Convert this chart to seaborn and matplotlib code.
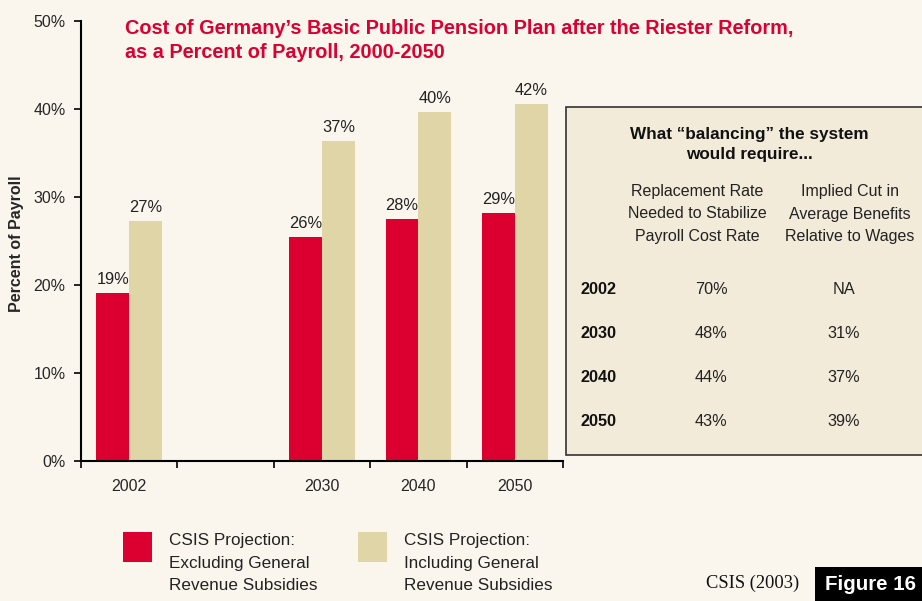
import matplotlib
matplotlib.use('Agg')
import matplotlib.pyplot as plt
import seaborn as sns
import pandas as pd
from matplotlib.patches import Rectangle

# bar data (percent of payroll)
years = ["2002", "2030", "2040", "2050"]
slots = ["2002", "gap", "2030", "2040", "2050"]
excluding = [19.1, 25.5, 27.5, 28.2]
including = [27.3, 36.4, 39.7, 40.6]
excluding_labels = ["19%", "26%", "28%", "29%"]
including_labels = ["27%", "37%", "40%", "42%"]

# inset table
table_years = ["2002", "2030", "2040", "2050"]
replacement_rate = ["70%", "48%", "44%", "43%"]
implied_cut = ["NA", "31%", "37%", "39%"]

RED = "#DC0031"
BEIGE = "#E0D5A7"
BG = "#FAF6EE"
BOX = "#F2EBDA"

sns.set_style("ticks")
plt.rcParams['font.family'] = ['Liberation Sans', 'DejaVu Sans']

W, H = 922, 601
fig = plt.figure(figsize=(W / 100, H / 100), dpi=100, facecolor=BG)

def px(x, y):
    return x / W, 1 - y / H

ax = fig.add_axes([81 / W, (H - 461) / H, (563 - 81) / W, (461 - 21) / H])
ax.set_facecolor(BG)

s1 = "CSIS Projection: Excluding General Revenue Subsidies"
s2 = "CSIS Projection: Including General Revenue Subsidies"
df = pd.DataFrame({
    "year": years * 2,
    "value": excluding + including,
    "series": [s1] * len(years) + [s2] * len(years),
})

sns.barplot(data=df, x="year", y="value", hue="series", order=slots,
            hue_order=[s1, s2], palette=[RED, BEIGE], width=0.68,
            saturation=1, legend=False, ax=ax, linewidth=0)

for cont, labs in zip(ax.containers, [excluding_labels, including_labels]):
    bars = [b for b in cont if b.get_height() == b.get_height() and b.get_height() > 0]
    if len(bars) == len(labs):
        for b, t in zip(bars, labs):
            ax.annotate(t, (b.get_x() + b.get_width() / 2, b.get_height()),
                        xytext=(0, 4), textcoords="offset points",
                        ha="center", va="bottom", fontsize=11.8, color="#222222")

ax.set_xlim(-0.5, 4.5)
ax.set_ylim(0, 50)
ax.set_yticks(range(0, 51, 10))
ax.set_yticklabels([f"{v}%" for v in range(0, 51, 10)], fontsize=11.5)
ax.set_xticks([0, 2, 3, 4])
ax.set_xticklabels(years, fontsize=11.5)
ax.set_xticks([i - 0.5 for i in range(6)], minor=True)
ax.tick_params(axis="x", which="major", length=0, pad=13)
ax.tick_params(axis="x", which="minor", length=5, width=1.2, color="black")
ax.tick_params(axis="y", length=5, width=1.2, color="black", pad=6)
ax.set_xlabel("")
ax.set_ylabel("Percent of Payroll", fontsize=11.5, fontweight="bold")
ax.yaxis.set_label_coords((17 - 81) / (563 - 81), 0.495)
ax.yaxis.label.set_va("center")
for sp in ["top", "right"]:
    ax.spines[sp].set_visible(False)
for sp in ["left", "bottom"]:
    ax.spines[sp].set_linewidth(1.5)
    ax.spines[sp].set_color("black")

# title
fig.text(*px(125, 28), "Cost of Germany\u2019s Basic Public Pension Plan after the Riester Reform,",
         color=RED, fontsize=14.3, fontweight="bold", va="center")
fig.text(*px(125, 52), "as a Percent of Payroll, 2000-2050",
         color=RED, fontsize=14.3, fontweight="bold", va="center")

# inset table box
fig.add_artist(Rectangle(px(566, 455), (W + 5 - 566) / W, (455 - 107) / H,
                         transform=fig.transFigure, facecolor=BOX,
                         edgecolor="#333333", linewidth=1.2))
fig.text(*px(749, 134), "What \u201cbalancing\u201d the system", fontsize=12.3,
         fontweight="bold", ha="center", va="center", color="#111111")
fig.text(*px(749, 155), "would require...", fontsize=12.3,
         fontweight="bold", ha="center", va="center", color="#111111")
for i, (c1, c2) in enumerate(zip(["Replacement Rate", "Needed to Stabilize", "Payroll Cost Rate"],
                                 ["Implied Cut in", "Average Benefits", "Relative to Wages"])):
    y = 192 + i * 22
    fig.text(*px(697, y), c1, fontsize=11.5, ha="center", va="center", color="#222222")
    fig.text(*px(850, y), c2, fontsize=11.5, ha="center", va="center", color="#222222")
for i, (yr, a, b) in enumerate(zip(table_years, replacement_rate, implied_cut)):
    y = 289 + i * 44.3
    fig.text(*px(580, y), yr, fontsize=11.7, fontweight="bold", va="center", color="#111111")
    fig.text(*px(711, y), a, fontsize=11.7, ha="center", va="center", color="#222222")
    fig.text(*px(844, y), b, fontsize=11.7, ha="center", va="center", color="#222222")

# legend
for x0, col, lines in [(123, RED, ["CSIS Projection:", "Excluding General", "Revenue Subsidies"]),
                       (358, BEIGE, ["CSIS Projection:", "Including General", "Revenue Subsidies"])]:
    fig.add_artist(Rectangle(px(x0, 562), 29 / W, 30 / H, transform=fig.transFigure,
                             facecolor=col, edgecolor="none"))
    for j, t in enumerate(lines):
        fig.text(*px(x0 + 46, 541 + j * 22.5), t, fontsize=12.3, va="center", color="#222222")

# source and figure tag
fig.text(*px(706, 583), "CSIS (2003)", fontsize=13.3, family=["Liberation Serif", "DejaVu Serif"],
         va="center", color="#111111")
fig.add_artist(Rectangle(px(815, 601), (W - 815) / W, 34 / H, transform=fig.transFigure,
                         facecolor="black", edgecolor="none"))
fig.text(*px(870, 585), "Figure 16", fontsize=14.8, fontweight="bold", color="white",
         ha="center", va="center")

fig.savefig("out.png", dpi=100, facecolor=BG)
